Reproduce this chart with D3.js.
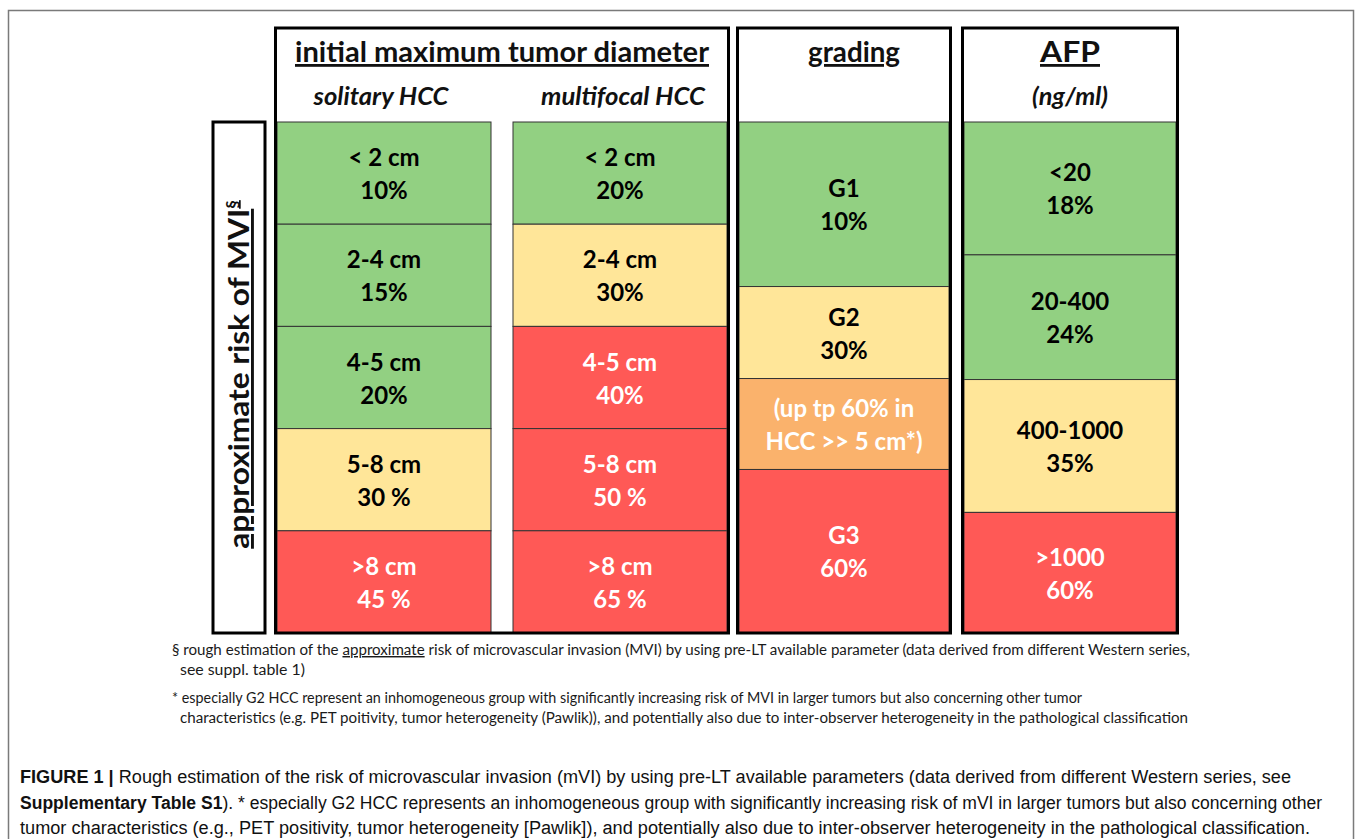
<!DOCTYPE html>
<html>
<head>
<meta charset="utf-8">
<script src="https://cdn.jsdelivr.net/npm/d3@7"></script>
<style>
  body { margin: 0; background: #fff; }
  svg text { font-family: Lato, "Open Sans", sans-serif; }
  .cap { font-family: "Liberation Sans Narrow", "Arial Narrow", "Liberation Sans", sans-serif !important; }
</style>
</head>
<body>
<svg id="chart" width="1356" height="839"></svg>
<script>
// columns of the table
var columns = ["solitary", "multifocal", "grading", "afp"];

// rows per column: label, risk, level, and how many row units each cell covers
var solitaryLabels = ["< 2 cm", "2-4 cm", "4-5 cm", "5-8 cm", ">8 cm"];
var solitaryRisk   = ["10%", "15%", "20%", "30 %", "45 %"];
var solitaryLevel  = ["low", "low", "low", "mid", "high"];
var solitarySpan   = [1, 1, 1, 1, 1];

var multifocalLabels = ["< 2 cm", "2-4 cm", "4-5 cm", "5-8 cm", ">8 cm"];
var multifocalRisk   = ["20%", "30%", "40%", "50 %", "65 %"];
var multifocalLevel  = ["low", "mid", "high", "high", "high"];
var multifocalSpan   = [1, 1, 1, 1, 1];

var gradingLabels = ["G1", "G2", "(up tp 60% in", "G3"];
var gradingRisk   = ["10%", "30%", "HCC >> 5 cm*)", "60%"];
var gradingLevel  = ["low", "mid", "warn", "high"];
var gradingSpan   = [1.61, 0.9, 0.89, 1.6];

var afpLabels = ["<20", "20-400", "400-1000", ">1000"];
var afpRisk   = ["18%", "24%", "35%", "60%"];
var afpLevel  = ["low", "low", "mid", "high"];
var afpSpan   = [1.3, 1.22, 1.3, 1.18];

var levels = ["low", "mid", "warn", "high"];

var svg = d3.select("#chart");

// outer figure frame
svg.append("rect")
    .attr("x", 8.5).attr("y", 10.5)
    .attr("width", 1345).attr("height", 860)
    .attr("fill", "none").attr("stroke", "#7a7a7a").attr("stroke-width", 1.5);

var y = d3.scaleLinear().domain([0, 5]).range([122, 633]);
var x = d3.scaleOrdinal().domain(columns).range([277, 513, 739, 964]);
var w = d3.scaleOrdinal().domain(columns).range([214, 214, 210, 212]);
var fill = d3.scaleOrdinal().domain(levels).range(["#92d082", "#ffe699", "#fab26c", "#ff5956"]);
var ink = d3.scaleOrdinal().domain(levels).range(["#000", "#000", "#fff", "#fff"]);

function build(col, labels, risk, level, span) {
    var acc = 0;
    return labels.map(function (l, i) {
        var d = {col: col, label: l, risk: risk[i], level: level[i], y0: acc, y1: acc + span[i]};
        acc += span[i];
        return d;
    });
}

var cells = [].concat(
    build("solitary", solitaryLabels, solitaryRisk, solitaryLevel, solitarySpan),
    build("multifocal", multifocalLabels, multifocalRisk, multifocalLevel, multifocalSpan),
    build("grading", gradingLabels, gradingRisk, gradingLevel, gradingSpan),
    build("afp", afpLabels, afpRisk, afpLevel, afpSpan)
);

var g = svg.append("g");

g.selectAll("rect.cell")
    .data(cells)
    .enter()
    .append("rect")
    .attr("class", "cell")
    .attr("x", function (d) { return x(d.col) })
    .attr("y", function (d) { return y(d.y0) })
    .attr("width", function (d) { return w(d.col) })
    .attr("height", function (d) { return y(d.y1) - y(d.y0) })
    .attr("fill", function (d) { return fill(d.level) })
    .attr("stroke", "#333")
    .attr("stroke-width", 1);

// cell labels, two lines each
var lab = g.selectAll("text.cell")
    .data(cells)
    .enter()
    .append("text")
    .attr("class", "cell")
    .attr("text-anchor", "middle")
    .attr("font-weight", "bold")
    .attr("font-size", 24)
    .attr("fill", function (d) { return ink(d.level) })
    .attr("x", function (d) { return x(d.col) + w(d.col) / 2 });

lab.append("tspan")
    .attr("x", function (d) { return x(d.col) + w(d.col) / 2 })
    .attr("y", function (d) { return (y(d.y0) + y(d.y1)) / 2 - 7 })
    .text(function (d) { return d.label });
lab.append("tspan")
    .attr("x", function (d) { return x(d.col) + w(d.col) / 2 })
    .attr("y", function (d) { return (y(d.y0) + y(d.y1)) / 2 + 26 })
    .text(function (d) { return d.risk });

// thick group boxes
var boxes = [
    {x0: x("solitary") - 1.5, x1: x("multifocal") + w("multifocal") + 1.5},
    {x0: x("grading") - 1.5, x1: x("grading") + w("grading") + 1.5},
    {x0: x("afp") - 1.5, x1: x("afp") + w("afp") + 1.5}
];
svg.selectAll("rect.box")
    .data(boxes)
    .enter()
    .append("rect")
    .attr("class", "box")
    .attr("x", function (d) { return d.x0 })
    .attr("y", 28)
    .attr("width", function (d) { return d.x1 - d.x0 })
    .attr("height", y(5) - 28)
    .attr("fill", "none")
    .attr("stroke", "#000")
    .attr("stroke-width", 3);

// headers
var titles = [
    {text: "initial maximum tumor diameter", cx: (boxes[0].x0 + boxes[0].x1) / 2, len: 414},
    {text: "grading", cx: (boxes[1].x0 + boxes[1].x1) / 2 + 10, len: 92},
    {text: "AFP", cx: (boxes[2].x0 + boxes[2].x1) / 2, len: 60}
];
svg.selectAll("text.title")
    .data(titles)
    .enter()
    .append("text")
    .attr("class", "title")
    .attr("x", function (d) { return d.cx })
    .attr("y", 62)
    .attr("text-anchor", "middle")
    .attr("font-size", 28)
    .attr("font-weight", "bold")
    .attr("fill", "#111")
    .attr("textLength", function (d) { return d.len })
    .attr("lengthAdjust", "spacingAndGlyphs")
    .style("text-decoration", "underline")
    .text(function (d) { return d.text });

var subs = [
    {text: "solitary HCC", cx: x("solitary") + w("solitary") / 2 - 3, len: 135},
    {text: "multifocal HCC", cx: x("multifocal") + w("multifocal") / 2 + 3, len: 164},
    {text: "(ng/ml)", cx: x("afp") + w("afp") / 2, len: 76}
];
svg.selectAll("text.sub")
    .data(subs)
    .enter()
    .append("text")
    .attr("class", "sub")
    .attr("x", function (d) { return d.cx })
    .attr("y", 105)
    .attr("text-anchor", "middle")
    .attr("font-size", 25)
    .attr("font-weight", "bold")
    .attr("font-style", "italic")
    .attr("fill", "#111")
    .attr("textLength", function (d) { return d.len })
    .attr("lengthAdjust", "spacingAndGlyphs")
    .text(function (d) { return d.text });

// left axis box with rotated label
svg.append("rect")
    .attr("x", 213).attr("y", y(0))
    .attr("width", 52).attr("height", y(5) - y(0))
    .attr("fill", "none").attr("stroke", "#000").attr("stroke-width", 3);

var axl = svg.append("text")
    .attr("transform", "translate(249," + (y(2.47)) + ") rotate(-90)")
    .attr("text-anchor", "middle")
    .attr("font-size", 29)
    .attr("font-weight", "bold")
    .attr("fill", "#111")
    .style("text-decoration", "underline");
axl.append("tspan").attr("textLength", 340).attr("lengthAdjust", "spacingAndGlyphs").text("approximate risk of MVI");
axl.append("tspan").attr("font-size", 17).attr("dy", -11).text("§");

// footnotes
var notes = svg.append("g").attr("font-size", 14.5).attr("fill", "#1a1a1a");
var n1 = notes.append("text").attr("x", 172).attr("y", 655)
    .attr("textLength", 1018).attr("lengthAdjust", "spacingAndGlyphs");
n1.append("tspan").text("§ rough estimation of the ");
n1.append("tspan").style("text-decoration", "underline").text("approximate");
n1.append("tspan").text(" risk of microvascular invasion (MVI) by using pre-LT available parameter (data derived from different Western series,");
notes.append("text").attr("x", 180).attr("y", 675)
    .attr("textLength", 125).attr("lengthAdjust", "spacingAndGlyphs")
    .text("see suppl. table 1)");
notes.append("text").attr("x", 172).attr("y", 703)
    .attr("textLength", 910).attr("lengthAdjust", "spacingAndGlyphs")
    .text("* especially G2 HCC represent an inhomogeneous  group  with significantly increasing risk of MVI in larger tumors but also concerning other tumor");
notes.append("text").attr("x", 180).attr("y", 723)
    .attr("textLength", 1008).attr("lengthAdjust", "spacingAndGlyphs")
    .text("characteristics (e.g. PET  poitivity, tumor  heterogeneity  (Pawlik)), and potentially also due to inter-observer heterogeneity in the pathological classification");

// caption
var cap = svg.append("g").attr("font-size", 18).attr("fill", "#111");
var c1 = cap.append("text").attr("class", "cap").attr("x", 20).attr("y", 783)
    .attr("textLength", 1271).attr("lengthAdjust", "spacingAndGlyphs");
c1.append("tspan").attr("font-weight", "bold").text("FIGURE 1 | ");
c1.append("tspan").text("Rough estimation of the risk of microvascular invasion (mVI) by using pre-LT available parameters (data derived from different Western series, see");
var c2 = cap.append("text").attr("class", "cap").attr("x", 20).attr("y", 809)
    .attr("textLength", 1302).attr("lengthAdjust", "spacingAndGlyphs");
c2.append("tspan").attr("font-weight", "bold").text("Supplementary Table S1");
c2.append("tspan").text("). * especially G2 HCC represents an inhomogeneous group with significantly increasing risk of mVI in larger tumors but also concerning other");
cap.append("text").attr("class", "cap").attr("x", 20).attr("y", 834)
    .attr("textLength", 1290).attr("lengthAdjust", "spacingAndGlyphs")
    .text("tumor characteristics (e.g., PET positivity, tumor heterogeneity [Pawlik]), and potentially also due to inter-observer heterogeneity in the pathological classification.");
</script>
</body>
</html>
